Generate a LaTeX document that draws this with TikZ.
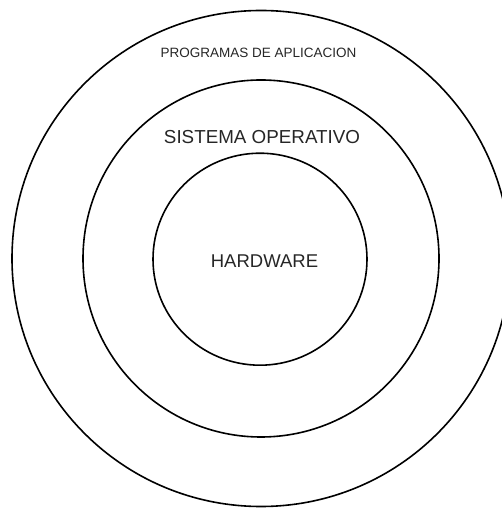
\documentclass[tikz,border=0pt]{standalone}
\usepackage{fontspec}
\setmainfont{Liberation Sans}
\usepackage{tikz}
\usetikzlibrary{positioning, shapes.geometric}

\tikzset{
	ring/.style={ellipse, draw=black, line width=1.6pt, inner sep=0pt},
	layer/.style={inner sep=0pt, text=black!85}
}

\begin{document}
\begin{tikzpicture}[x=1pt, y=1pt]
			\useasboundingbox (0, 0) rectangle (502, 508);
			% Rings:
			\node[ring, minimum width=498pt, minimum height=496pt](R1) at (261, 249.5){};
			\node[ring, minimum width=356pt, minimum height=357pt](R2) at (261, 249.5){};
			\node[ring, minimum width=214pt, minimum height=212pt](R3) at (260, 248.8){};
			% Labels:
			\node[layer, font=\fontsize{13.5}{16}\selectfont](L1) at (258.5, 455.5){PROGRAMAS DE APLICACION};
			\node[layer, font=\fontsize{18.8}{22}\selectfont](L2) at (262, 371){SISTEMA OPERATIVO};
			\node[layer, font=\fontsize{18.5}{22}\selectfont](L3) at (264.5, 247){HARDWARE};
		\end{tikzpicture}
\end{document}
